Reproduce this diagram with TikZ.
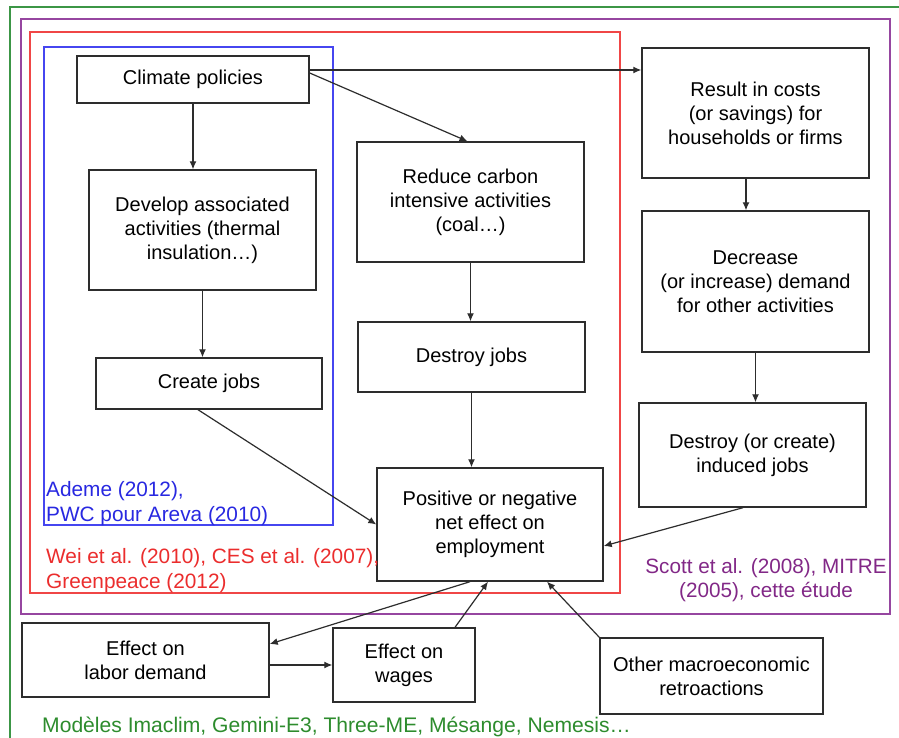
\documentclass[tikz,border=0pt]{standalone}
\usepackage{fontspec}
\setmainfont{Liberation Sans}
\usetikzlibrary{arrows.meta,calc}
\definecolor{fgray}{RGB}{45,45,45}
\definecolor{fblue}{RGB}{70,70,240}
\definecolor{fred}{RGB}{240,70,70}
\definecolor{fpurple}{RGB}{150,70,160}
\definecolor{fgreen}{RGB}{60,150,70}
\definecolor{tblue}{RGB}{40,40,225}
\definecolor{tred}{RGB}{235,45,45}
\definecolor{tpurple}{RGB}{130,40,135}
\definecolor{tgreen}{RGB}{45,140,45}
\begin{document}
\begin{tikzpicture}[x=1pt,y=-1pt,
  every node/.style={font=\fontsize{20}{24}\selectfont},
  box/.style={draw=fgray,line width=1.4pt,align=center,inner sep=0pt},
  arr/.style={draw=fgray,line width=1.2pt,-{Latex[length=8pt,width=7pt]}},
  frame/.style={line width=1.3pt},
  lbl/.style={anchor=base west,inner sep=0pt,font=\fontsize{20.8}{25}\selectfont},
  clbl/.style={anchor=base,inner sep=0pt,font=\fontsize{20.7}{25}\selectfont}]
\clip (0,0) rectangle (899,738);
\fill[white] (0,0) rectangle (899,738);
% frames
\draw[frame,fgreen] (10,7) rectangle (915,760);
\draw[frame,fpurple] (21,19) rectangle (890,614);
\draw[frame,fred] (30,32) rectangle (620,593);
\draw[frame,fblue] (44,47) rectangle (333,525);
% boxes
\node[box,minimum width=232,minimum height=47] (climate) at (193,79.5) {Climate policies};
\node[box,minimum width=227,minimum height=120] (develop) at (202.5,230) {Develop associated\\activities (thermal\\insulation…)};
\node[box,minimum width=227,minimum height=120] (reduce) at (470.5,202) {Reduce carbon\\intensive activities\\(coal…)};
\node[box,minimum width=227,minimum height=130] (result) at (755.5,113) {Result in costs\\(or savings) for\\households or firms};
\node[box,minimum width=227,minimum height=141] (decrease) at (755.5,281.5) {Decrease\\(or increase) demand\\for other activities};
\node[box,minimum width=226,minimum height=51] (create) at (209,383.5) {Create jobs};
\node[box,minimum width=227,minimum height=70] (destroy) at (471.5,357) {Destroy jobs};
\node[box,minimum width=227,minimum height=104] (destroyc) at (752.5,455) {Destroy (or create)\\induced jobs};
\node[box,minimum width=226,minimum height=113] (positive) at (490,524.5) {Positive or negative\\net effect on\\employment};
\node[box,minimum width=247,minimum height=74] (labor) at (145.5,660) {Effect on\\labor demand};
\node[box,minimum width=142,minimum height=74] (wages) at (404,665) {Effect on\\wages};
\node[box,minimum width=223,minimum height=76] (other) at (711.5,676) {Other macroeconomic\\retroactions};
% arrows
\draw[arr] (climate.south) -- (climate.south |- develop.north);
\draw[arr] (climate.east |- 0,70) -- (result.west |- 0,70);
\draw[arr] (climate.east |- 0,73) -- ([xshift=-3pt]reduce.north);
\draw[arr] (develop.south) -- (develop.south |- create.north);
\draw[arr] (reduce.south) -- (destroy.north -| reduce.south);
\draw[arr] (result.south -| 746,0) -- (decrease.north -| 746,0);
\draw[arr] (decrease.south) -- (decrease.south |- destroyc.north);
\draw[arr] (destroy.south) -- (destroy.south |- positive.north);
\draw[arr] (create.south -| 198,0) -- (positive.west);
\draw[arr] (destroyc.south -| 743,0) -- (positive.east |- 0,546);
\draw[arr] (positive.south -| 470,0) -- (labor.east |- 0,644);
\draw[arr] (labor.east |- 0,665) -- (wages.west);
\draw[arr] (wages.north -| 455,0) -- (positive.south -| 488,0);
\draw[arr] (other.north west) -- (positive.south -| 547,0);
% labels
\node[lbl,text=tblue] (l1a) at (46,496) {Ademe (2012),};
\node[lbl,text=tblue] (l1b) at (46,521) {PWC pour Areva (2010)};
\node[lbl,text=tred] (l2a) at (46,563) {Wei et al. (2010), CES et al. (2007),};
\node[lbl,text=tred] (l2b) at (46,588) {Greenpeace (2012)};
\node[clbl,text=tpurple] (l3a) at (766,573) {Scott et al. (2008), MITRE};
\node[clbl,text=tpurple] (l3b) at (766,597) {(2005), cette étude};
\node[lbl,font=\fontsize{21.1}{25}\selectfont,text=tgreen] (l4) at (42,732) {Modèles Imaclim, Gemini-E3, Three-ME, Mésange, Nemesis…};
\end{tikzpicture}
\end{document}
